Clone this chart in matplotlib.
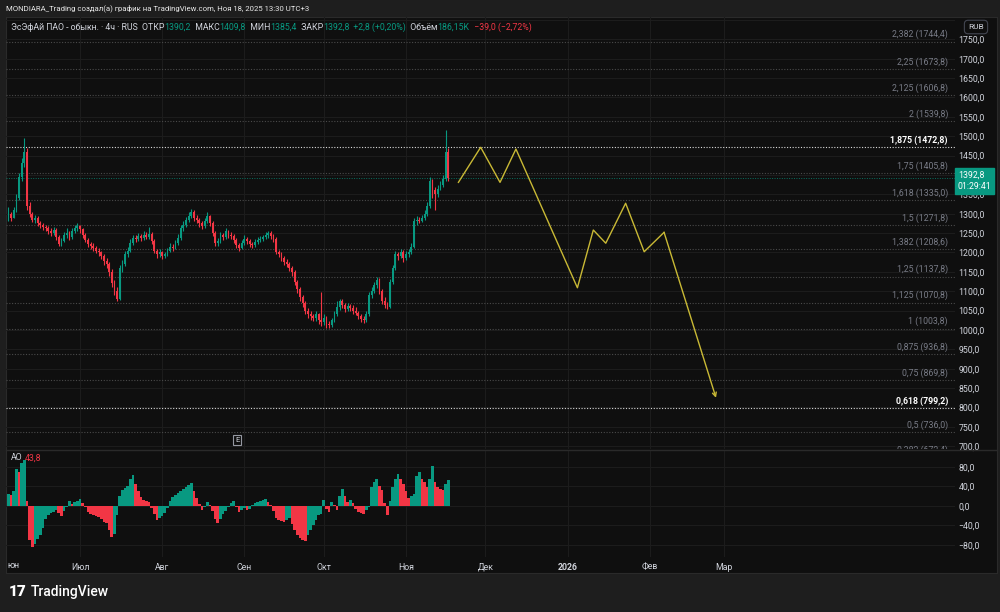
import numpy as np
import matplotlib.pyplot as plt

plt.rcParams['font.family'] = ['Roboto', 'DejaVu Sans']

# ---- data (x = days since 1 Jun 2025, one candle per day, open = previous close) ----
first_day = 3
first_open = 1295
closes = [1300, 1290, 1310, 1340, 1395, 1430, 1460, 1320, 1300, 1285,
          1290, 1275, 1270, 1265, 1262, 1255, 1250, 1258, 1240, 1222,
          1230, 1245, 1250, 1240, 1255, 1262, 1268, 1260, 1245, 1232,
          1222, 1218, 1212, 1205, 1200, 1190, 1178, 1170, 1150, 1120,
          1100, 1080, 1160, 1170, 1195, 1205, 1225, 1238, 1235, 1242,
          1238, 1245, 1240, 1248, 1230, 1205, 1195, 1200, 1190, 1195,
          1205, 1215, 1212, 1225, 1238, 1262, 1270, 1285, 1295, 1305,
          1290, 1285, 1275, 1268, 1280, 1295, 1275, 1250, 1225, 1230,
          1245, 1240, 1255, 1245, 1242, 1232, 1220, 1212, 1225, 1235,
          1230, 1222, 1220, 1228, 1232, 1235, 1240, 1245, 1250, 1242,
          1235, 1200, 1195, 1185, 1175, 1170, 1160, 1150, 1125, 1105,
          1085, 1070, 1050, 1040, 1035, 1030, 1040, 1025, 1020, 1030,
          1015, 1012, 1025, 1040, 1060, 1075, 1065, 1055, 1062, 1058,
          1050, 1045, 1035, 1028, 1025, 1040, 1090, 1100, 1115, 1130,
          1100, 1075, 1065, 1060, 1125, 1160, 1195, 1190, 1200, 1185,
          1195, 1200, 1215, 1280, 1285, 1282, 1290, 1300, 1320, 1385,
          1360, 1350, 1365, 1375, 1390, 1460, 1392.8]
highs = [1318, 1305, 1318, 1350, 1405, 1445, 1495, 1470, 1330, 1305,
         1298, 1295, 1282, 1276, 1272, 1268, 1262, 1265, 1262, 1245,
         1238, 1252, 1262, 1255, 1262, 1270, 1275, 1272, 1264, 1250,
         1238, 1228, 1224, 1218, 1212, 1205, 1195, 1185, 1175, 1158,
         1130, 1112, 1168, 1180, 1205, 1215, 1235, 1245, 1245, 1250,
         1248, 1255, 1252, 1266, 1252, 1235, 1210, 1208, 1205, 1202,
         1212, 1225, 1222, 1232, 1248, 1270, 1280, 1292, 1305, 1312,
         1310, 1298, 1290, 1280, 1288, 1304, 1298, 1280, 1255, 1238,
         1252, 1250, 1262, 1258, 1252, 1248, 1238, 1225, 1232, 1245,
         1240, 1235, 1228, 1235, 1240, 1242, 1246, 1252, 1256, 1255,
         1248, 1240, 1206, 1200, 1190, 1182, 1175, 1165, 1155, 1130,
         1110, 1090, 1075, 1056, 1048, 1042, 1050, 1045, 1098, 1040,
         1035, 1022, 1032, 1048, 1075, 1080, 1080, 1070, 1070, 1068,
         1065, 1060, 1050, 1040, 1035, 1048, 1098, 1110, 1125, 1138,
         1135, 1105, 1085, 1072, 1132, 1168, 1205, 1202, 1210, 1206,
         1205, 1210, 1225, 1288, 1295, 1292, 1298, 1310, 1330, 1395,
         1390, 1368, 1375, 1385, 1400, 1516, 1470]
lows = [1280, 1282, 1288, 1305, 1335, 1385, 1420, 1310, 1292, 1278,
        1276, 1268, 1262, 1258, 1255, 1248, 1242, 1245, 1232, 1216,
        1218, 1226, 1238, 1232, 1236, 1250, 1255, 1250, 1238, 1226,
        1215, 1210, 1205, 1198, 1192, 1182, 1168, 1160, 1140, 1110,
        1090, 1074, 1078, 1150, 1165, 1188, 1200, 1220, 1228, 1230,
        1230, 1232, 1234, 1236, 1222, 1198, 1186, 1188, 1184, 1185,
        1190, 1200, 1205, 1208, 1220, 1232, 1255, 1265, 1278, 1288,
        1282, 1275, 1266, 1260, 1262, 1275, 1268, 1242, 1218, 1218,
        1225, 1232, 1235, 1238, 1235, 1225, 1212, 1205, 1208, 1220,
        1222, 1215, 1212, 1215, 1222, 1226, 1230, 1234, 1238, 1236,
        1228, 1195, 1188, 1178, 1168, 1162, 1152, 1140, 1115, 1095,
        1075, 1060, 1042, 1032, 1026, 1022, 1024, 1015, 1010, 1012,
        1006, 1004, 1008, 1020, 1035, 1052, 1058, 1046, 1048, 1050,
        1042, 1038, 1028, 1020, 1018, 1020, 1035, 1082, 1095, 1108,
        1092, 1068, 1058, 1055, 1058, 1118, 1155, 1180, 1185, 1175,
        1180, 1188, 1195, 1212, 1272, 1275, 1278, 1285, 1295, 1315,
        1340, 1310, 1342, 1360, 1368, 1385, 1385.4]
ao_values = [25, 22, 30, 75, 70, 88, 94, 10, -70, -84,
             -78, -68, -60, -45, -28, -20, -14, -12, -9, -15,
             -21, -10, -3, 10, 4, 7, 9, 13, 5, -3,
             -12, -18, -20, -22, -24, -28, -33, -36, -50, -64,
             -58, -20, 20, 32, 36, 40, 55, 63, 45, 30,
             18, 12, 10, 8, -5, -16, -29, -26, -22, -15,
             -5, 10, 18, 22, 26, 30, 35, 39, 42, 47,
             30, 15, 3, -9, -3, 7, 2, -10, -28, -36,
             -28, -18, -10, -2, 6, 10, -2, -12, -8, -5,
             -9, -6, 2, 5, 8, 9, 12, 13, 8, 1,
             -10, -25, -29, -31, -33, -30, -26, -38, -50, -60,
             -66, -70, -72, -60, -50, -40, -29, -20, -16, 12,
             -6, -12, 8, 2, -9, 20, 35, 20, 8, 12,
             5, -6, -12, -14, -16, -8, -2, 39, 48, 54,
             40, 32, 5, -19, 10, 39, 55, 66, 55, 45,
             30, 15, 20, 25, 60, 70, 55, 49, 39, 55,
             81, 49, 39, 35, 32, 45, 53]

fib_ratios = [2.382, 2.25, 2.125, 2, 1.875, 1.75, 1.618, 1.5, 1.382, 1.25,
              1.125, 1, 0.875, 0.75, 0.618, 0.5, 0.382]
fib_prices = [1744.4, 1673.8, 1606.8, 1539.8, 1472.8, 1405.8, 1335.0, 1271.8, 1208.6, 1137.8,
              1070.8, 1003.8, 936.8, 869.8, 799.2, 736.0, 672.4]
fib_strong = [1.875, 0.618]

path_days = [172.8, 181.2, 188.5, 194.5, 217.7, 223.7, 228.4, 235.9, 242.9, 250.4, 270.0]
path_prices = [1381, 1471.5, 1381, 1467, 1109, 1258, 1224, 1327, 1202, 1252, 825]

month_days = [30, 61, 92, 122, 153, 183, 214, 245, 273]
month_labels = ['Июл', 'Авг', 'Сен', 'Окт', 'Ноя', 'Дек', '2026', 'Фев', 'Мар']
last_price = 1392.8

# ---- style ----
BG = '#0f0f0f'
OUTER = '#1e1e1e'
GRID = '#1c1c1c'
UP = '#089981'
DOWN = '#f23645'
TXT = '#d1d4dc'
DIM = '#787b86'
YELLOW = '#c9b935'

W, H = 1000, 612
PX_DAY = 2.65
X_OFF = 0.5


def rect(x0, y0, x1, y1):
    return [x0 / W, 1 - y1 / H, (x1 - x0) / W, (y1 - y0) / H]


def fx(px):
    return px / W


def fy(py):
    return 1 - py / H


fig = plt.figure(figsize=(10, 6.12), dpi=100, facecolor=OUTER)

frame = fig.add_axes(rect(6, 17, 997, 573))
frame.set_facecolor(BG)
frame.set_xticks([])
frame.set_yticks([])
for s in frame.spines.values():
    s.set_color('#2a2a2a')
    s.set_linewidth(0.8)

ax = fig.add_axes(rect(6, 17, 955, 449))
ao_ax = fig.add_axes(rect(6, 450, 955, 557), sharex=ax)
xlim = ((6 - X_OFF) / PX_DAY, (955 - X_OFF) / PX_DAY)

for a in (ax, ao_ax):
    a.set_facecolor('none')
    for s in a.spines.values():
        s.set_visible(False)
    a.set_xlim(*xlim)
    a.yaxis.tick_right()
    a.tick_params(axis='y', length=0, pad=2.5, labelsize=6.3, labelcolor=TXT)
    for d in month_days:
        a.axvline(d, color=GRID, lw=0.8, zorder=0)

ax.set_ylim(692.9, 1807.7)
ax.tick_params(axis='x', length=0, labelbottom=False)
ticks = np.arange(700, 1751, 50)
ax.set_yticks(ticks)
ax.set_yticklabels([f'{v:.1f}'.replace('.', ',') for v in ticks])
for v in np.arange(700, 1801, 50):
    ax.axhline(v, color=GRID, lw=0.8, zorder=0)

# separator between panes
fig.add_artist(plt.Line2D([fx(6), fx(997)], [fy(449.5), fy(449.5)], color='#2a2a2a', lw=1))

# fibonacci levels
for r, p in zip(fib_ratios, fib_prices):
    strong = r in fib_strong
    ax.axhline(p, color='#d8d8d8' if strong else '#4a4a4a', lw=0.8,
               ls=(0, (1, 1.5)), zorder=1)
    lab = f'{r:g} ({p:.1f})'.replace('.', ',')
    ax.annotate(lab, xy=((948 - X_OFF) / PX_DAY, p), xytext=(0, 5), textcoords='offset points',
                ha='right', va='center', fontsize=6.3, color='white' if strong else DIM,
                fontweight='bold' if strong else 'normal', annotation_clip=False, clip_on=True)

# current price line
ax.axhline(last_price, color=UP, lw=0.7, ls=(0, (1, 1.5)), alpha=0.7, zorder=1)

# candles
n = len(closes)
days = np.arange(first_day, first_day + n)
c = np.array(closes, dtype=float)
o = np.concatenate([[first_open], c[:-1]])
hi = np.array(highs, dtype=float)
lo = np.array(lows, dtype=float)
cols = np.where(c >= o, UP, DOWN)
ax.vlines(days, lo, hi, colors=cols, lw=0.8, zorder=3)
ax.bar(days, np.maximum(np.abs(c - o), 1.5), bottom=np.minimum(o, c), width=0.65,
       color=cols, zorder=4, linewidth=0)

# projection path
ax.plot(path_days[:-1], path_prices[:-1], color=YELLOW, lw=1.0, zorder=5)
ax.annotate('', xy=(path_days[-1], path_prices[-1]), xytext=(path_days[-2], path_prices[-2]),
            arrowprops=dict(arrowstyle='->', color=YELLOW, lw=1.0, shrinkA=0, shrinkB=0,
                            mutation_scale=7), zorder=5)

# AO histogram
ao = np.array(ao_values, dtype=float)
ao_cols = [UP if i == 0 or ao[i] >= ao[i - 1] else DOWN for i in range(len(ao))]
ao_ax.bar(days, ao, width=1.0, color=ao_cols, linewidth=0, zorder=3)
ao_ax.set_ylim(-105.2, 114.3)
ao_ax.set_yticks([80, 40, 0, -40, -80])
ao_ax.set_yticklabels(['80,0', '40,0', '0,0', '\u221240,0', '\u221280,0'])
for v in [80, 40, 0, -40, -80]:
    ao_ax.axhline(v, color=GRID, lw=0.8, zorder=0)
ao_ax.set_xticks(month_days)
ao_ax.set_xticklabels(month_labels)
ao_ax.tick_params(axis='x', length=0, pad=4, labelsize=6.3, labelcolor=TXT)
for t in ao_ax.get_xticklabels():
    if t.get_text() == '2026':
        t.set_fontweight('bold')
fig.text(fx(7), fy(566), 'юн', fontsize=6.3, color=TXT, va='center', ha='left')

# header texts
fig.text(fx(6), fy(8), 'MONDIARA_Trading создал(а) график на TradingView.com, Ноя 18, 2025 13:30 UTC+3',
         fontsize=5.6, color='#e8e8e8', va='center', ha='left')

segments = [('ЭсЭфАй ПАО - обыкн. · 4ч · RUS  ОТКР', TXT), ('1390,2', UP), ('  МАКС', TXT),
            ('1409,8', UP), ('  МИН', TXT), ('1385,4', UP), ('  ЗАКР', TXT), ('1392,8', UP),
            ('  +2,8 (+0,20%)', UP), ('  Объём', TXT), ('186,15K', UP), ('  \u221239,0 (\u22122,72%)', DOWN)]
prev = fig.text(fx(11), fy(27), segments[0][0], fontsize=6.3, color=segments[0][1],
                va='center', ha='left')
for s, col in segments[1:]:
    prev = fig.add_artist(plt.Annotation(s, xy=(1, 0.5), xycoords=prev, va='center', ha='left',
                                         fontsize=6.3, color=col))

fig.text(fx(11), fy(458), 'AO', fontsize=6.3, color=TXT, va='center', ha='left')
fig.text(fx(25), fy(458), '43,8', fontsize=6.3, color=DOWN, va='center', ha='left')

# RUB box
fig.text(fx(976), fy(27), 'RUB', fontsize=6, color=TXT, va='center', ha='center',
         bbox=dict(boxstyle='round,pad=0.45', facecolor=BG, edgecolor='#434651', lw=0.8))

# last price tag
fig.text(fx(958), fy(181), '1392,8\n01:29:41', fontsize=6.3, color='white', va='center', ha='left',
         linespacing=1.3, zorder=10,
         bbox=dict(boxstyle='square,pad=0.3', facecolor=UP, edgecolor=UP))

# event marker
fig.text(fx(237), fy(440), 'E', fontsize=5.5, color=TXT, va='center', ha='center',
         bbox=dict(boxstyle='square,pad=0.25', facecolor=BG, edgecolor='#9598a1', lw=0.8))

# TradingView logo
fig.text(fx(9), fy(592), '17', fontsize=11, fontweight='heavy', color='white', va='center', ha='left')
fig.text(fx(31), fy(592), 'TradingView', fontsize=10, fontweight='medium', color='white',
         va='center', ha='left')

fig.savefig('out.png', dpi=100, facecolor=OUTER)
